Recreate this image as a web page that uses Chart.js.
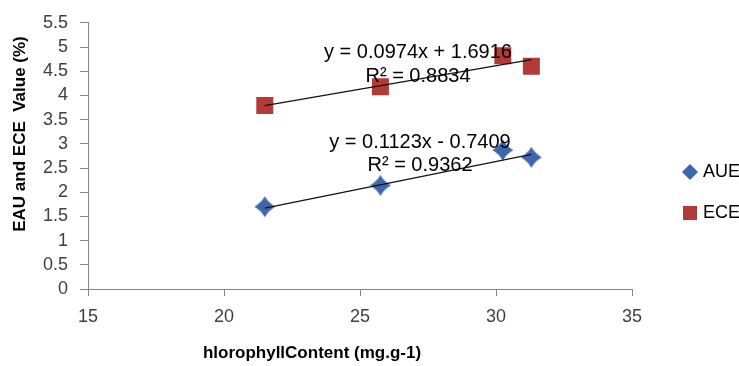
<!DOCTYPE html>
<html>
<head>
<meta charset="utf-8">
<script src="https://cdn.jsdelivr.net/npm/chart.js@4"></script>
<style>
  body { margin: 0; background: #fff; }
  #wrap { width: 739px; height: 366px; position: relative; }
</style>
</head>
<body>
<div id="wrap"><canvas id="chart"></canvas></div>
<script>
// chlorophyll content (x) for each sample
const chlorophyll = [21.5, 25.75, 30.25, 31.3];
// series values
const aueValues = [1.70, 2.14, 2.87, 2.72];
const eceValues = [3.79, 4.18, 4.82, 4.60];
// trendline end points (first and last x)
const trendX = [21.5, 31.3];
const aueTrend = [1.67, 2.78];
const eceTrend = [3.79, 4.74];
// axis ticks
const xTicks = [15, 20, 25, 30, 35];
const yMax = 5.5;
const yStep = 0.5;
// trendline labels
const eceLabel = ["y = 0.0974x + 1.6916", "R\u00b2 = 0.8834"];
const aueLabel = ["y = 0.1123x - 0.7409", "R\u00b2 = 0.9362"];

const blue = "#3f66ad";
const red = "#b23a37";
const axisGrey = "#868686";
const textGrey = "#404040";
const font = "'Liberation Sans', Arial, sans-serif";

// 4 point star marker like the Excel one
function makeStar(size, color) {
    const c = document.createElement("canvas");
    c.width = size; c.height = size;
    const g = c.getContext("2d");
    const m = size / 2, r = size / 2 - 0.5, k = r * 0.36;
    g.fillStyle = color;
    g.beginPath();
    g.moveTo(m, m - r);
    g.quadraticCurveTo(m + k, m - k, m + r, m);
    g.quadraticCurveTo(m + k, m + k, m, m + r);
    g.quadraticCurveTo(m - k, m + k, m - r, m);
    g.quadraticCurveTo(m - k, m - k, m, m - r);
    g.fill();
    return c;
}
const star = makeStar(22, blue);

function pts(xs, ys) {
    return xs.map((x, i) => ({ x: x, y: ys[i] }));
}

// text labels + legend drawn on top
const overlay = {
    id: "overlay",
    afterDraw(chart) {
        const ctx = chart.ctx;
        ctx.save();
        ctx.fillStyle = "#000";
        ctx.font = "20px " + font;
        ctx.textAlign = "center";
        ctx.textBaseline = "middle";
        ctx.fillText(eceLabel[0], 418, 52);
        ctx.fillText(eceLabel[1], 418, 76);
        ctx.fillText(aueLabel[0], 420, 142);
        ctx.fillText(aueLabel[1], 420, 165);

        // axis titles
        ctx.font = "bold 17px " + font;
        ctx.fillText("hlorophyllContent (mg.g-1)", 312, 353);
        ctx.save();
        ctx.translate(20, 134);
        ctx.rotate(-Math.PI / 2);
        ctx.fillText("EAU and ECE  Value (%)", 0, 0);
        ctx.restore();

        // legend
        ctx.fillStyle = blue;
        ctx.beginPath();
        ctx.moveTo(690, 164); ctx.lineTo(698, 172); ctx.lineTo(690, 180); ctx.lineTo(682, 172);
        ctx.fill();
        ctx.fillStyle = red;
        ctx.fillRect(683, 206, 14, 14);
        ctx.fillStyle = "#000";
        ctx.font = "18px " + font;
        ctx.textAlign = "left";
        ctx.fillText("AUE", 703, 172);
        ctx.fillText("ECE", 703, 213);
        ctx.restore();
    }
};

new Chart(document.getElementById("chart"), {
    type: "scatter",
    data: {
        datasets: [
            {
                label: "AUE trend",
                data: pts(trendX, aueTrend),
                showLine: true,
                borderColor: "#111",
                borderWidth: 1.2,
                pointRadius: 0
            },
            {
                label: "ECE trend",
                data: pts(trendX, eceTrend),
                showLine: true,
                borderColor: "#111",
                borderWidth: 1.2,
                pointRadius: 0
            },
            {
                label: "AUE",
                data: pts(chlorophyll, aueValues),
                pointStyle: star,
                backgroundColor: blue,
                borderColor: blue
            },
            {
                label: "ECE",
                data: pts(chlorophyll, eceValues),
                pointStyle: "rect",
                pointRadius: 12,
                backgroundColor: red,
                borderColor: red,
                borderWidth: 0
            }
        ]
    },
    options: {
        responsive: true,
        maintainAspectRatio: false,
        animation: false,
        layout: { padding: { top: 18, right: 107, left: 0, bottom: 0 } },
        plugins: {
            legend: { display: false },
            tooltip: { enabled: false }
        },
        scales: {
            x: {
                type: "linear",
                min: xTicks[0],
                max: xTicks[xTicks.length - 1],
                afterBuildTicks: s => { s.ticks = xTicks.map(v => ({ value: v })); },
                afterFit: s => { s.height = 77; },
                ticks: { color: textGrey, font: { family: font, size: 18 }, padding: 10, autoSkip: false, maxRotation: 0 },
                grid: { drawOnChartArea: false, tickLength: 7, color: axisGrey },
                border: { color: axisGrey }
            },
            y: {
                min: 0,
                max: yMax,
                afterFit: s => { s.width = 88; },
                ticks: {
                    stepSize: yStep,
                    autoSkip: false,
                    color: textGrey,
                    font: { family: font, size: 18 },
                    padding: 12,
                    callback: v => String(Math.round(v * 10) / 10)
                },
                grid: { drawOnChartArea: false, tickLength: 8, color: axisGrey },
                border: { color: axisGrey }
            }
        }
    },
    plugins: [overlay]
});
</script>
</body>
</html>
